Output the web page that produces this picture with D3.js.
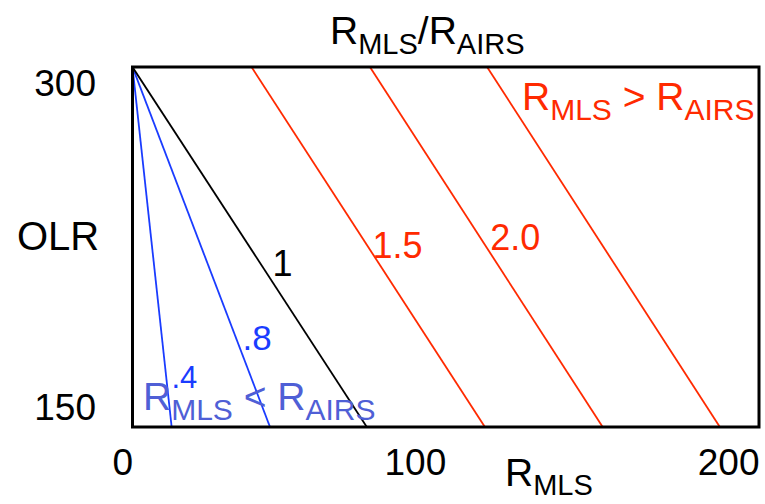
<!DOCTYPE html>
<html>
<head>
<meta charset="utf-8">
<script src="https://cdn.jsdelivr.net/npm/d3@7"></script>
<style>
  html, body { margin: 0; padding: 0; background: #fff; }
  svg { display: block; }
  text { font-family: "Liberation Sans", Arial, Helvetica, sans-serif; }
</style>
</head>
<body>
<svg id="chart" width="765" height="504"></svg>
<script>
// Axis extents and tick values
const rmlsDomain = [0, 200];
const olrDomain = [141.3, 307.5];
const xTicks = [0, 100, 200];
const yTicks = [150, 300];

// Constant-ratio lines: R_MLS where each line leaves the top (high OLR) and bottom (low OLR) edges
const ratioNames  = [".4", ".8", "1", "1.5", "2.0", "2.5"];
const rmlsAtTop   = [0, 0, 0, 38.0, 75.8, 113.2];
const rmlsAtBot   = [12.5, 43.9, 74.8, 112.5, 150.1, 187.5];
const lineGroup   = ["low", "low", "one", "high", "high", "high"];
// OLR level where each ratio label sits (null = unlabeled)
const labelOlr    = [159.3, 176.9, 211, 219.3, 223, null];
const labelDx     = [4, 2, 4, -3, 2, 0];
const labelSize   = [31, 35, 36, 36, 36, 36];

const colors = { low: "#1a3cff", one: "#000000", high: "#ff2a00" };

const svg = d3.select("#chart");
const m = { left: 132.5, top: 67, right: 759, bottom: 427 };

const x = d3.scaleLinear().domain(rmlsDomain).range([m.left, m.right]);
const y = d3.scaleLinear().domain(olrDomain).range([m.bottom, m.top]);

// clip lines to the plotting box
svg.append("defs").append("clipPath").attr("id", "plotClip")
  .append("rect")
  .attr("x", x(rmlsDomain[0])).attr("y", y(olrDomain[1]))
  .attr("width", x(rmlsDomain[1]) - x(rmlsDomain[0]))
  .attr("height", y(olrDomain[0]) - y(olrDomain[1]));

const lines = ratioNames.map((name, i) => ({
  name,
  group: lineGroup[i],
  pts: [[rmlsAtTop[i], olrDomain[1]], [rmlsAtBot[i], olrDomain[0]]],
  labelOlr: labelOlr[i], dx: labelDx[i], size: labelSize[i]
}));

const lineGen = d3.line().x(d => x(d[0])).y(d => y(d[1]));

svg.append("g").attr("clip-path", "url(#plotClip)")
  .selectAll("path").data(lines).join("path")
  .attr("d", d => lineGen(d.pts))
  .attr("fill", "none")
  .attr("stroke", d => colors[d.group])
  .attr("stroke-width", 1.8);

// ratio labels placed next to their line
function rAtOlr(d, olr) {
  const [a, b] = d.pts;
  const t = (olr - a[1]) / (b[1] - a[1]);
  return a[0] + t * (b[0] - a[0]);
}
svg.append("g").selectAll("text")
  .data(lines.filter(d => d.labelOlr !== null)).join("text")
  .attr("x", d => x(rAtOlr(d, d.labelOlr)) + d.dx)
  .attr("y", d => y(d.labelOlr))
  .attr("font-size", d => d.size)
  .attr("fill", d => colors[d.group])
  .text(d => d.name);

// axes
const xAxis = svg.append("g")
  .attr("transform", `translate(0,${m.bottom})`)
  .call(d3.axisBottom(x).tickValues(xTicks).tickSize(0).tickPadding(22).tickFormat(d3.format("d")));
xAxis.select(".domain").remove();
xAxis.selectAll("text")
  .attr("font-size", 37).attr("fill", "#000")
  .attr("font-family", "Liberation Sans, Arial, sans-serif")
  .attr("text-anchor", "end");

const yAxis = svg.append("g")
  .attr("transform", `translate(${m.left},0)`)
  .call(d3.axisLeft(y).tickValues(yTicks).tickSize(0).tickPadding(36.5).tickFormat(d3.format("d")));
yAxis.select(".domain").remove();
yAxis.selectAll("text")
  .attr("font-size", 37).attr("fill", "#000")
  .attr("font-family", "Liberation Sans, Arial, sans-serif");

// plotting box
svg.append("rect")
  .attr("x", m.left).attr("y", m.top)
  .attr("width", m.right - m.left).attr("height", m.bottom - m.top)
  .attr("fill", "none").attr("stroke", "#000").attr("stroke-width", 3);

// text with subscripts: parts = [[text, isSub], ...]
function subText(parts, px, py, color, big, small, shift = 10) {
  const t = svg.append("text").attr("x", px).attr("y", py)
    .attr("fill", color).attr("font-size", big);
  let shifted = false;
  parts.forEach(([s, sub]) => {
    const ts = t.append("tspan").text(s);
    if (sub && !shifted) { ts.attr("dy", shift).attr("font-size", small); shifted = true; }
    else if (!sub && shifted) { ts.attr("dy", -shift); shifted = false; }
    else if (sub) ts.attr("font-size", small);
  });
  return t;
}

subText([["R", false], ["MLS", true], ["/R", false], ["AIRS", true]], 330, 44, "#000", 39, 29);
svg.append("text").attr("x", 17).attr("y", 250).attr("font-size", 40).attr("fill", "#000").text("OLR");
subText([["R", false], ["MLS", true]], 505, 486, "#000", 39, 29, 9);
subText([["R", false], ["MLS", true], [" > R", false], ["AIRS", true]], 522, 110, "#ff2a00", 39, 30);
subText([["R", false], ["MLS", true], [" < R", false], ["AIRS", true]], 143, 410, "#4f5fd6", 39, 30);
</script>
</body>
</html>
